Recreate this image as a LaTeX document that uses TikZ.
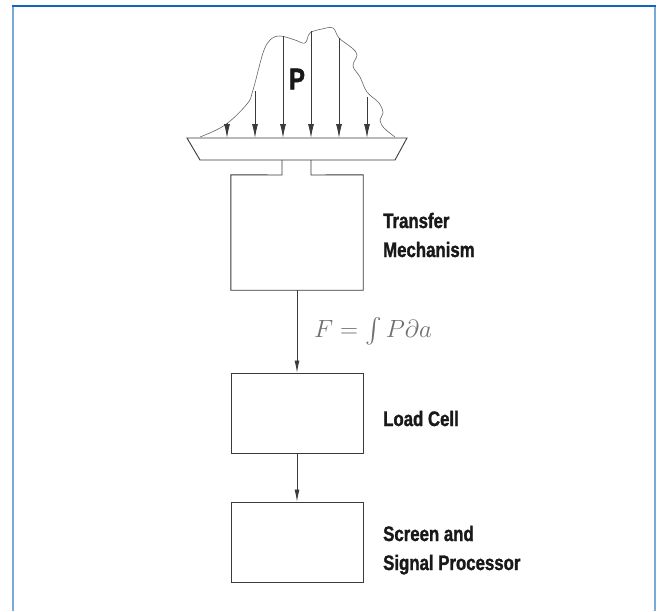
\documentclass[tikz,border=0pt]{standalone}
\usepackage{exscale}
\usepackage{fontspec}
\usetikzlibrary{arrows.meta}
\newfontfamily\lblfont[FakeStretch=0.8, BoldFeatures={FakeBold=1.3}]{Liberation Sans}
\definecolor{ln}{HTML}{3A3A3A}
\definecolor{curvec}{HTML}{666666}
\definecolor{topblue}{HTML}{1565C0}
\definecolor{sideblue}{HTML}{7AA8D8}
\definecolor{formc}{HTML}{707070}
\begin{document}
\begin{tikzpicture}[x=1pt,y=-1pt,
  box/.style={line width=0.9pt, draw=ln, minimum width=132pt, inner sep=0pt},
  lbl/.style={font=\lblfont\bfseries\fontsize{21}{29}\selectfont, align=left, anchor=base west, inner sep=0pt, text=black!90},
  arr/.style={draw=ln, line width=0.8pt, -{Latex[length=12pt,width=5pt]}},
  parr/.style={draw=ln, line width=0.9pt, -{Latex[length=14pt,width=6pt]}},
  frametop/.style={draw=topblue, line width=1.5pt},
  frameside/.style={draw=sideblue, line width=2pt}
]
\useasboundingbox (0,0) rectangle (658,611);
\fill[white] (0,0) rectangle (658,611);
% frame
\draw[frameside] (13,6) -- (13,611);
\draw[frameside] (655,6) -- (655,611);
\draw[frametop] (12,6) -- (656,6);

% pressure distribution curve
\draw[curvec, line width=0.6pt] plot[smooth, tension=0.6] coordinates {
 (200,137) (225,125) (247,104) (253,90) (263,53) (270,40) (280,36) (295,40)
 (305,43) (310,33) (322,29) (333,28) (339,38) (352,48) (357,55) (353,66)
 (360,77) (367,92) (379,103) (383,113) (380,120) (384,128) (395,137)};

% load arrows
\coordinate (a1) at (227,123);
\coordinate (a2) at (255,91);
\coordinate (a3) at (283,36);
\coordinate (a4) at (311,31);
\coordinate (a5) at (339,38);
\coordinate (a6) at (367,97);
\foreach \c in {a1,a2,a3,a4,a5,a6}{
  \coordinate (b\c) at (\c |- 0,138);
  \draw[parr] (\c) -- (b\c);
}
\node[font=\lblfont\bfseries\fontsize{30}{30}\selectfont, text=black!90, inner sep=0pt] (P) at (297,79) {P};

% platform
\draw[ln, line width=0.9pt] (187,138) -- (407,138) -- (395,160) -- (200,160) -- cycle;

% boxes
\node[minimum width=132pt, minimum height=115pt, inner sep=0pt] (tm) at (297,232.5) {};
\draw[ln, line width=0.9pt] (282,160) -- (282,175) -- (tm.north west) -- (tm.south west)
  -- (tm.south east) -- (tm.north east) -- (311,175) -- (311,160);
\node[box, minimum height=80pt] (lc) at (297,413) {};
\node[box, minimum height=80pt] (sp) at (297,542) {};

\draw[arr] (tm.south) -- (lc.north);
\draw[arr] (lc.south) -- (sp.north);

\node[text=formc, inner sep=0pt] (F) at (373,331) {\fontsize{26}{30}\selectfont $F=\int P\partial a$};

% labels
\node[lbl] (t1) at (383,257) {Transfer\\Mechanism};
\node[lbl] (t2) at (383,426) {Load Cell};
\node[lbl] (t3) at (383,570) {Screen and\\Signal Processor};
\end{tikzpicture}
\end{document}
